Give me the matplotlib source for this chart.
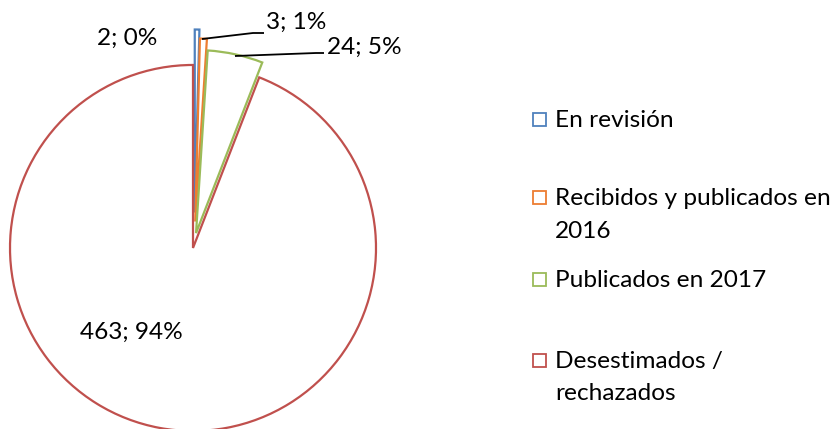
import matplotlib
matplotlib.use('Agg')
import matplotlib.pyplot as plt
from matplotlib.patches import Rectangle

# ---- data ----
categories = ['En revisión', 'Recibidos y publicados en\n2016',
              'Publicados en 2017', 'Desestimados /\nrechazados']
values = [2, 3, 24, 463]
colors = ['#4F81BD', '#ED7D31', '#9BBB59', '#C0504D']

plt.rcParams['font.family'] = ['Lato', 'DejaVu Sans']

W, H = 835, 429
fig = plt.figure(figsize=(W / 100, H / 100), dpi=100)
ax = fig.add_axes([0, 0, 1, 1])


def Y(p):
    return H - p


FS = 17.6
cx, cy, r = 194.4, 240.5, 183
explode = [28, 19, 7.6, 7.6]
wedges, _ = ax.pie(values, center=(cx, Y(cy)), radius=r, explode=explode,
                   startangle=90, counterclock=False)
for w, c in zip(wedges, colors):
    w.set_facecolor('white')
    w.set_edgecolor(c)
    w.set_linewidth(1.6)
    w.set_joinstyle('miter')

ax.set_xlim(0, W)
ax.set_ylim(0, H)
ax.set_aspect('equal')
ax.axis('off')

# data labels
total = sum(values)
label_pos = [(127, 45), (296, 29), (364, 54), (131, 339)]
for v, (x, y) in zip(values, label_pos):
    ax.text(x, Y(y), f"{v}; {round(100 * v / total)}%", ha='center',
            va='baseline', fontsize=FS, color='black')

# leader lines
leaders = [
    [(202, 39), (253, 33), (264, 33)],
    [(235, 56), (316, 53), (324, 53)],
]
for pts in leaders:
    ax.plot([p[0] for p in pts], [Y(p[1]) for p in pts], color='black',
            lw=1.3, solid_capstyle='butt')

# legend
row_baselines = [[127], [205, 238], [287], [368, 400]]
for cat, c, bases in zip(categories, colors, row_baselines):
    b0 = bases[0]
    ax.add_patch(Rectangle((533, Y(b0 - 1.5)), 13, 13, facecolor='white',
                           edgecolor=c, lw=1.3))
    for line, b in zip(cat.split('\n'), bases):
        ax.text(555, Y(b), line, ha='left', va='baseline', fontsize=FS,
                color='black')

fig.savefig('out.png', dpi=100)
